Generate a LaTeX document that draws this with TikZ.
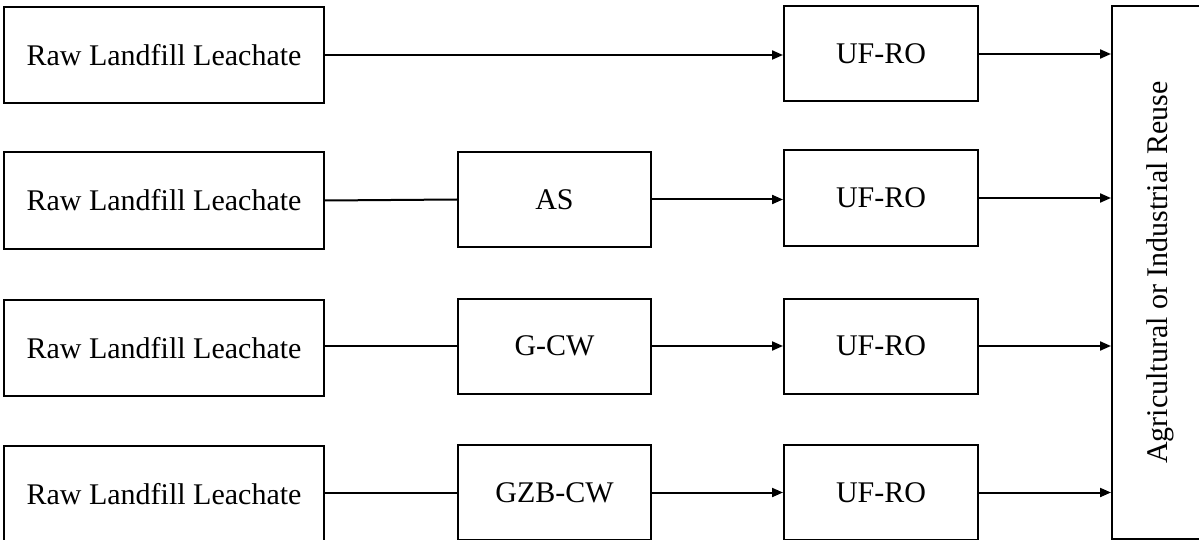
\documentclass[tikz,border=0pt]{standalone}
\usepackage{fontspec}
\setmainfont{Liberation Serif}
\usetikzlibrary{arrows.meta}
\begin{document}
\begin{tikzpicture}[x=1pt,y=1pt,
  box/.style={draw, line width=2pt, inner sep=0pt, align=center,
    font=\fontsize{30}{35}\selectfont},
  rawbox/.style={box, minimum width=320pt, minimum height=96pt},
  midbox/.style={box, minimum width=193pt, minimum height=95pt},
  membox/.style={box, minimum width=194pt, minimum height=95pt},
  link/.style={line width=2pt},
  flow/.style={line width=2pt, -{Triangle[length=11pt,width=9pt]}}]
\clip (0,0) rectangle (1199,-540);
\useasboundingbox (0,0) rectangle (1199,-540);

% reuse destination (right edge runs off the page)
\node[box, minimum width=96pt, minimum height=533pt] (reuse) at (1160,-272.5) {};
\node[rotate=90, font=\fontsize{30}{35}\selectfont] (reuselbl) at (reuse.center) {Agricultural or Industrial Reuse};

% row 1: direct membrane treatment
\node[rawbox] (raw1) at (164,-55) {Raw Landfill Leachate};
\node[membox] (uf1) at (881,-54) {UF-RO};

% row 2: activated sludge pretreatment
\node[rawbox] (raw2) at (164,-200.5) {Raw Landfill Leachate};
\node[midbox] (as) at (554.5,-199.5) {AS};
\node[membox] (uf2) at (881,-198) {UF-RO};

% row 3: gravel constructed wetland
\node[rawbox] (raw3) at (164,-348) {Raw Landfill Leachate};
\node[midbox] (gcw) at (554.5,-346) {G-CW};
\node[membox] (uf3) at (881,-346) {UF-RO};

% row 4: gravel-zeolite-biochar constructed wetland
\node[rawbox] (raw4) at (164,-494) {Raw Landfill Leachate};
\node[midbox] (gzb) at (554.5,-492.5) {GZB-CW};
\node[membox] (uf4) at (881,-492.5) {UF-RO};

% connectors
\draw[flow] (raw1.east) -- (uf1.west |- raw1.east);
\draw[link] (raw2.east) -- (as.west);
\draw[flow] (as.east) -- (uf2.west |- as.east);
\draw[link] (raw3.east |- gcw.west) -- (gcw.west);
\draw[flow] (gcw.east) -- (uf3.west);
\draw[link] (raw4.east |- gzb.west) -- (gzb.west);
\draw[flow] (gzb.east) -- (uf4.west);

\draw[flow] (uf1.east) -- (reuse.west |- uf1.east);
\draw[flow] (uf2.east) -- (reuse.west |- uf2.east);
\draw[flow] (uf3.east) -- (reuse.west |- uf3.east);
\draw[flow] (uf4.east) -- (reuse.west |- uf4.east);
\end{tikzpicture}
\end{document}
